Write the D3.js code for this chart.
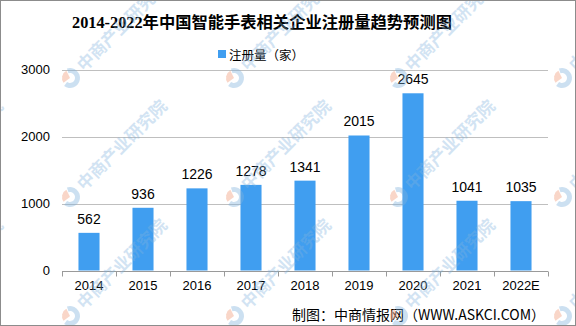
<!DOCTYPE html>
<html>
<head>
<meta charset="utf-8">
<script src="https://cdn.jsdelivr.net/npm/d3@7"></script>
<style>
  html, body { margin: 0; padding: 0; background: #fff; }
  svg { display: block; }
</style>
</head>
<body>
<svg id="chart" width="576" height="326"></svg>
<script>
// Registered smart-watch enterprises per year (2022 is a forecast)
const years = ["2014", "2015", "2016", "2017", "2018", "2019", "2020", "2021", "2022E"];
const registrations = [562, 936, 1226, 1278, 1341, 2015, 2645, 1041, 1035];
const yTicks = [0, 1000, 2000, 3000];
const titleText = "2014-2022年中国智能手表相关企业注册量趋势预测图";
const legendText = "注册量（家）";
const sourceText = "制图：中商情报网（WWW.ASKCI.COM）";
const watermarkText = "中商产业研究院";

const W = 576, H = 326;
const plot = { left: 62, right: 548, top: 69.5, bottom: 270.5 };
const barColor = "#409ef0";
const numFont = "'Liberation Sans', Arial, sans-serif";
const cjkFont = "'Noto Sans CJK SC', 'Liberation Sans', sans-serif";

const svg = d3.select("#chart");
svg.append("rect").attr("width", W).attr("height", H).attr("fill", "#fff");

const x = d3.scaleBand()
  .domain(years)
  .range([plot.left, plot.right])
  .paddingInner(0.61)
  .paddingOuter(0.305);

const y = d3.scaleLinear()
  .domain([0, 3000])
  .range([plot.bottom, plot.top]);

// category boundaries on the x axis
const edge = d3.scaleLinear().domain([0, years.length]).range([plot.left, plot.right]);

// horizontal gridlines
svg.append("g")
  .selectAll("line")
  .data(yTicks.filter(d => d > 0))
  .join("line")
  .attr("x1", plot.left).attr("x2", plot.right)
  .attr("y1", d => Math.round(y(d)) + 0.5).attr("y2", d => Math.round(y(d)) + 0.5)
  .attr("stroke", "#bfbfbf").attr("stroke-width", 1);

// y axis labels
const yAxis = svg.append("g")
  .attr("transform", `translate(${plot.left},0)`)
  .call(d3.axisLeft(y).tickValues(yTicks).tickSize(0).tickPadding(12).tickFormat(d3.format("d")));
yAxis.select(".domain").remove();
yAxis.selectAll("text")
  .attr("font-family", numFont).attr("font-size", 13).attr("fill", "#000");

// bars
svg.append("g")
  .selectAll("rect")
  .data(years.map((c, i) => ({ c, v: registrations[i] })))
  .join("rect")
  .attr("x", d => x(d.c))
  .attr("width", x.bandwidth())
  .attr("y", d => y(d.v))
  .attr("height", d => y(0) - y(d.v))
  .attr("fill", barColor);

// value labels
svg.append("g")
  .selectAll("text")
  .data(years.map((c, i) => ({ c, v: registrations[i] })))
  .join("text")
  .attr("x", d => x(d.c) + x.bandwidth() / 2)
  .attr("y", d => y(d.v) - 9)
  .attr("text-anchor", "middle")
  .attr("font-family", numFont).attr("font-size", 14).attr("fill", "#000")
  .text(d => d.v);

// x axis line and boundary ticks
const axisY = Math.round(y(0)) + 0.5;
const xg = svg.append("g");
xg.append("line")
  .attr("x1", plot.left).attr("x2", plot.right)
  .attr("y1", axisY).attr("y2", axisY)
  .attr("stroke", "#9a9a9a");
xg.selectAll("line.tick")
  .data(d3.range(years.length + 1))
  .join("line")
  .attr("class", "tick")
  .attr("x1", d => Math.round(edge(d)) + 0.5).attr("x2", d => Math.round(edge(d)) + 0.5)
  .attr("y1", axisY).attr("y2", axisY + 5)
  .attr("stroke", "#9a9a9a");

// x axis labels
const xAxis = svg.append("g")
  .attr("transform", `translate(0,${plot.bottom})`)
  .call(d3.axisBottom(x).tickSize(0).tickPadding(10));
xAxis.select(".domain").remove();
xAxis.selectAll("text")
  .attr("font-family", numFont).attr("font-size", 13).attr("fill", "#000");

// title
svg.append("text")
  .attr("x", 262).attr("y", 28)
  .attr("text-anchor", "middle")
  .attr("font-family", "'Liberation Serif', 'Noto Sans CJK SC', serif")
  .attr("font-weight", "bold")
  .attr("font-size", 16.3)
  .attr("fill", "#000")
  .text(titleText);

// legend
svg.append("rect")
  .attr("x", 218).attr("y", 50).attr("width", 8).attr("height", 8)
  .attr("fill", barColor);
svg.append("text")
  .attr("x", 229).attr("y", 59.5)
  .attr("font-family", cjkFont).attr("font-size", 12.5).attr("fill", "#000")
  .text(legendText);

// source note
svg.append("text")
  .attr("x", 545).attr("y", 320)
  .attr("text-anchor", "end")
  .attr("font-family", cjkFont).attr("font-size", 14).attr("fill", "#000")
  .text(sourceText);

// diagonal brand watermarks
const wmX = [-94, 70, 234, 398, 562];
const wmY = [78, 197, 316];
const wm = svg.append("g").attr("pointer-events", "none");
wmY.forEach(py => wmX.forEach(px => {
  const g = wm.append("g").attr("transform", `translate(${px},${py}) rotate(-45)`);
  const ring = d3.arc().innerRadius(5).outerRadius(10);
  g.append("path")
    .attr("d", ring({ startAngle: Math.PI * 0.15, endAngle: Math.PI * 1.45 }))
    .attr("fill", "#7fb2dd").attr("opacity", 0.4);
  g.append("path")
    .attr("d", d3.arc().innerRadius(0).outerRadius(8)({ startAngle: -Math.PI * 0.45, endAngle: Math.PI * 0.1 }))
    .attr("fill", "#f2a486").attr("opacity", 0.45);
  g.append("text")
    .attr("x", 14).attr("y", 6)
    .attr("font-family", cjkFont).attr("font-weight", "bold").attr("font-size", 17)
    .attr("fill", "#7fb2dd").attr("opacity", 0.35)
    .text(watermarkText);
}));

// outer frame
svg.append("rect")
  .attr("x", 0.5).attr("y", 0.5).attr("width", W - 1).attr("height", H - 1)
  .attr("fill", "none").attr("stroke", "#8c8c8c");
</script>
</body>
</html>
